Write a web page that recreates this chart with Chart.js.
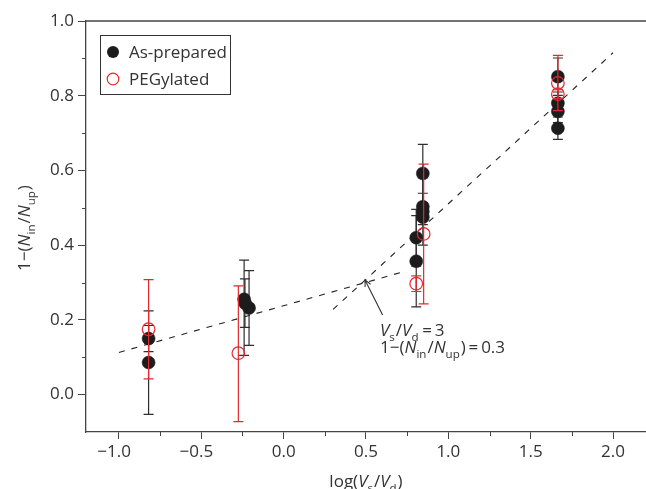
<!DOCTYPE html>
<html>
<head>
<meta charset="utf-8">
<script src="https://cdn.jsdelivr.net/npm/chart.js@4.4.0/dist/chart.umd.min.js"></script>
<style>
  html, body { margin: 0; background: #fff; overflow: hidden; }
  #wrap { width: 646px; height: 489px; position: relative; }
  canvas { display: block; }
</style>
</head>
<body>
<div id="wrap"><canvas id="chart"></canvas></div>
<script>
// axis ticks
const xTicks = [-1.0, -0.5, 0.0, 0.5, 1.0, 1.5, 2.0];
const xMinor = [-0.75, -0.25, 0.25, 0.75, 1.25, 1.75];
const yTicks = [0.0, 0.2, 0.4, 0.6, 0.8, 1.0];
const yMinor = [0.1, 0.3, 0.5, 0.7, 0.9];

// As-prepared (filled black)
const asX    = [-0.82, -0.82, -0.24, -0.235, -0.21, 0.805, 0.805, 0.845, 0.845, 0.845, 0.845, 1.665, 1.665, 1.665, 1.665];
const asY    = [0.150, 0.086, 0.255, 0.245, 0.232, 0.420, 0.357, 0.592, 0.503, 0.490, 0.475, 0.851, 0.780, 0.758, 0.713];
const asUp   = [0.035, 0.138, 0.105, 0.065, 0.100, 0.076, 0.122, 0.078, 0.036, 0.090, 0.020, 0.050, 0.030, 0.030, 0.030];
const asDown = [0.035, 0.139, 0.150, 0.065, 0.100, 0.076, 0.122, 0.078, 0.036, 0.090, 0.020, 0.050, 0.030, 0.030, 0.030];

// PEGylated (open red)
const pegX    = [-0.82, -0.275, 0.805, 0.85, 1.665, 1.665];
const pegY    = [0.175, 0.111, 0.297, 0.430, 0.834, 0.804];
const pegUp   = [0.133, 0.180, 0.021, 0.187, 0.074, 0.012];
const pegDown = [0.133, 0.183, 0.021, 0.187, 0.074, 0.012];

// dashed guide lines
const lowLineX  = [-1.0, 0.72];
const lowLineY  = [0.113, 0.328];
const highLineX = [0.30, 2.0];
const highLineY = [0.228, 0.915];

const FONT = '"Open Sans", "Noto Sans", sans-serif';
const AXIS = '#444';
const RED = '#e3282e';

const pts = (xs, ys) => xs.map((x, i) => ({ x, y: ys[i] }));

// draw text made of parts: [text, italic, sub]
function rich(ctx, x, y, parts, size, align) {
  const font = (it, sub) => `${it ? 'italic ' : ''}${sub ? size * 0.68 : size}px ${FONT}`;
  let w = 0;
  parts.forEach(p => { ctx.font = font(p[1], p[2]); w += ctx.measureText(p[0]).width + (p[2] ? 1 : 0); });
  let cx = align === 'center' ? x - w / 2 : x;
  ctx.textAlign = 'left';
  ctx.textBaseline = 'alphabetic';
  parts.forEach(p => {
    ctx.font = font(p[1], p[2]);
    ctx.fillText(p[0], cx, y + (p[2] ? size * 0.3 : 0));
    cx += ctx.measureText(p[0]).width + (p[2] ? 1 : 0);
  });
}

const extras = {
  id: 'extras',
  beforeDatasetDraw(chart, args) {
    const ds = chart.data.datasets[args.index];
    if (!ds.errUp) return;
    const ctx = chart.ctx, ys = chart.scales.y;
    const meta = chart.getDatasetMeta(args.index);
    ctx.save();
    ctx.strokeStyle = ds.errColor;
    ctx.lineWidth = 1.2;
    meta.data.forEach((el, i) => {
      const v = ds.data[i].y;
      const top = ys.getPixelForValue(v + ds.errUp[i]);
      const bot = ys.getPixelForValue(v - ds.errDown[i]);
      ctx.beginPath();
      ctx.moveTo(el.x, top); ctx.lineTo(el.x, bot);
      ctx.moveTo(el.x - 5, top); ctx.lineTo(el.x + 5, top);
      ctx.moveTo(el.x - 5, bot); ctx.lineTo(el.x + 5, bot);
      ctx.stroke();
    });
    ctx.restore();
  },
  afterDraw(chart) {
    const ctx = chart.ctx, xs = chart.scales.x, ys = chart.scales.y, a = chart.chartArea;
    ctx.save();
    ctx.strokeStyle = AXIS;
    ctx.lineWidth = 1.3;
    // top frame line
    ctx.beginPath();
    ctx.moveTo(a.left, a.top); ctx.lineTo(a.right, a.top);
    ctx.stroke();
    // minor ticks
    ctx.lineWidth = 1;
    ctx.beginPath();
    xMinor.forEach(v => { const p = Math.round(xs.getPixelForValue(v)) + 0.5; ctx.moveTo(p, a.bottom); ctx.lineTo(p, a.bottom + 4); });
    yMinor.forEach(v => { const p = Math.round(ys.getPixelForValue(v)) + 0.5; ctx.moveTo(a.left, p); ctx.lineTo(a.left - 4, p); });
    ctx.stroke();

    ctx.fillStyle = '#333';
    // x title
    rich(ctx, xs.getPixelForValue(0.5), 487,
      [['log(', 0, 0], ['V', 1, 0], ['s', 0, 1], ['/', 0, 0], ['V', 1, 0], ['d', 0, 1], [')', 0, 0]], 17, 'center');
    // y title
    ctx.save();
    ctx.translate(30, 228);
    ctx.rotate(-Math.PI / 2);
    rich(ctx, 0, 0,
      [['1\u2212(', 0, 0], ['N', 1, 0], ['in', 0, 1], ['/', 0, 0], ['N', 1, 0], ['up', 0, 1], [')', 0, 0]], 17, 'center');
    ctx.restore();

    // annotation
    const tx = xs.getPixelForValue(0.585);
    rich(ctx, tx, ys.getPixelForValue(0.157),
      [['V', 1, 0], ['s', 0, 1], ['/', 0, 0], ['V', 1, 0], ['d', 0, 1], ['\u2009=\u20093', 0, 0]], 17, 'left');
    rich(ctx, tx, ys.getPixelForValue(0.112),
      [['1\u2212(', 0, 0], ['N', 1, 0], ['in', 0, 1], ['/', 0, 0], ['N', 1, 0], ['up', 0, 1], [')\u2009=\u20090.3', 0, 0]], 17, 'left');
    // arrow
    const hx = xs.getPixelForValue(0.494), hy = ys.getPixelForValue(0.307);
    const sx = xs.getPixelForValue(0.601), sy = ys.getPixelForValue(0.213);
    const ang = Math.atan2(hy - sy, hx - sx);
    ctx.strokeStyle = '#333';
    ctx.lineWidth = 1.1;
    ctx.beginPath();
    ctx.moveTo(sx, sy); ctx.lineTo(hx, hy);
    ctx.moveTo(hx - 7 * Math.cos(ang - 0.45), hy - 7 * Math.sin(ang - 0.45));
    ctx.lineTo(hx, hy);
    ctx.lineTo(hx - 7 * Math.cos(ang + 0.45), hy - 7 * Math.sin(ang + 0.45));
    ctx.stroke();

    // legend
    ctx.strokeStyle = '#333';
    ctx.lineWidth = 1;
    ctx.strokeRect(100.5, 35.5, 130, 59);
    ctx.fillStyle = '#1c1c1c';
    ctx.beginPath(); ctx.arc(113, 52, 6, 0, Math.PI * 2); ctx.fill();
    ctx.strokeStyle = RED;
    ctx.lineWidth = 1.2;
    ctx.beginPath(); ctx.arc(113, 79, 5.8, 0, Math.PI * 2); ctx.stroke();
    ctx.fillStyle = '#333';
    ctx.font = `17px ${FONT}`;
    ctx.textAlign = 'left';
    ctx.textBaseline = 'alphabetic';
    ctx.fillText('As-prepared', 129, 58);
    ctx.fillText('PEGylated', 129, 85);
    ctx.restore();
  }
};

const tickLabel = v => {
  const s = Number(v).toFixed(1);
  return v < 0 ? '\u2212' + s.slice(1) + '\u2007' : s;
};

new Chart(document.getElementById('chart'), {
  type: 'scatter',
  data: {
    datasets: [
      {
        label: 'PEGylated', data: pts(pegX, pegY), order: 1,
        errUp: pegUp, errDown: pegDown, errColor: RED,
        pointRadius: 6.3, pointBackgroundColor: 'rgba(255,255,255,0)',
        pointBorderColor: RED, pointBorderWidth: 1.2
      },
      {
        label: 'As-prepared', data: pts(asX, asY), order: 2,
        errUp: asUp, errDown: asDown, errColor: '#2e2e2e',
        pointRadius: 6.5, pointBackgroundColor: '#1c1c1c',
        pointBorderColor: '#1c1c1c', pointBorderWidth: 0.5
      },
      {
        type: 'line', data: pts(lowLineX, lowLineY), order: 3,
        borderColor: '#222', borderWidth: 1.1, borderDash: [6, 7], pointRadius: 0
      },
      {
        type: 'line', data: pts(highLineX, highLineY), order: 3,
        borderColor: '#222', borderWidth: 1.1, borderDash: [6, 7], pointRadius: 0
      }
    ]
  },
  options: {
    responsive: true,
    maintainAspectRatio: false,
    animation: false,
    events: [],
    layout: { autoPadding: false, padding: { top: 21, right: 0, left: 0, bottom: 0 } },
    plugins: { legend: { display: false }, tooltip: { enabled: false } },
    scales: {
      x: {
        type: 'linear', min: -1.2, max: 2.2,
        afterBuildTicks: s => { s.ticks = xTicks.map(v => ({ value: v })); },
        afterFit: s => { s.height = 57; s.paddingLeft = 0; s.paddingRight = 0; },
        border: { color: AXIS, width: 1.3 },
        grid: { drawOnChartArea: false, tickLength: 7, color: AXIS, lineWidth: 1 },
        ticks: { callback: tickLabel, color: '#333', font: { family: FONT, size: 17 }, padding: 3, maxRotation: 0, autoSkip: false }
      },
      y: {
        type: 'linear', min: -0.1, max: 1.0,
        afterBuildTicks: s => { s.ticks = yTicks.map(v => ({ value: v })); },
        afterFit: s => { s.width = 86; s.paddingTop = 0; s.paddingBottom = 0; },
        border: { color: AXIS, width: 1.3 },
        grid: { drawOnChartArea: false, tickLength: 8, color: AXIS, lineWidth: 1 },
        ticks: { callback: tickLabel, color: '#333', font: { family: FONT, size: 17 }, padding: 4 }
      }
    }
  },
  plugins: [extras]
});
</script>
</body>
</html>
